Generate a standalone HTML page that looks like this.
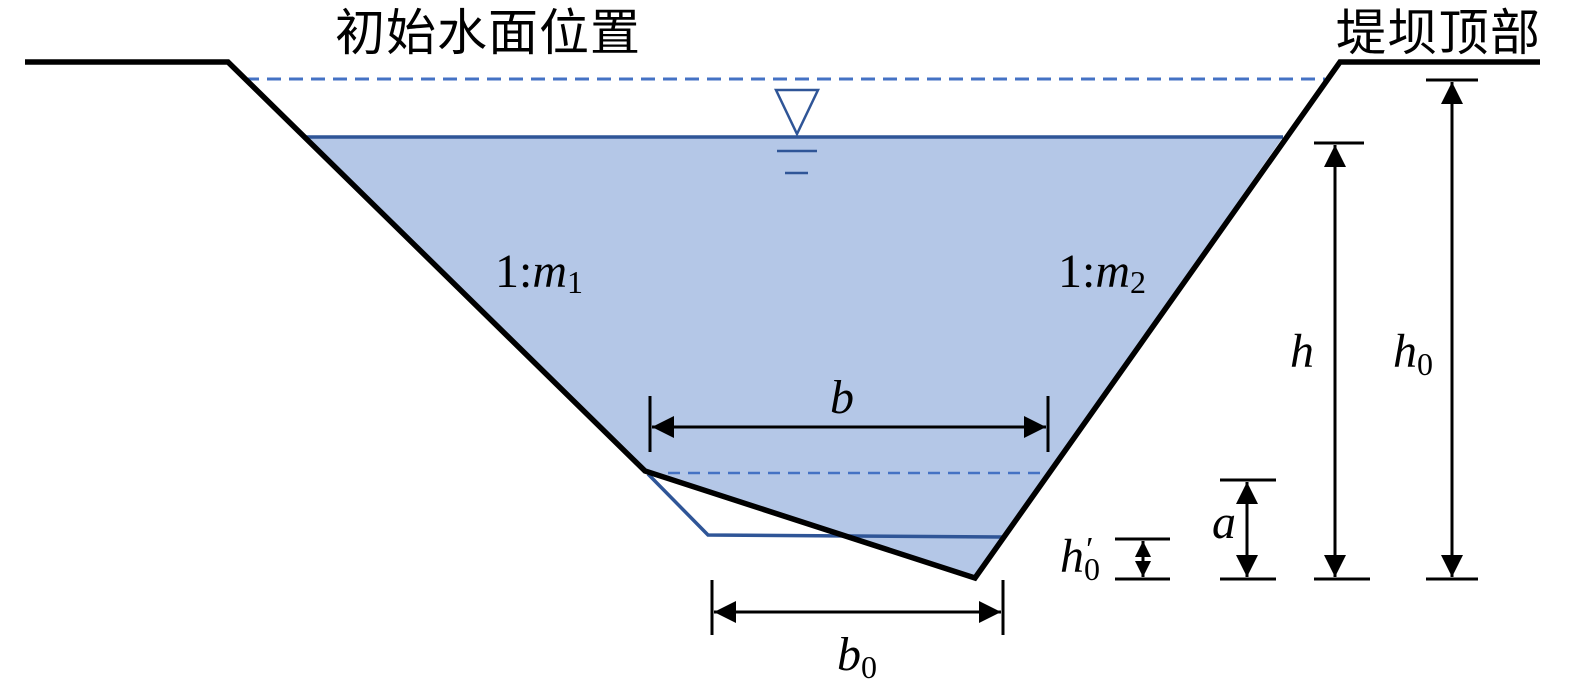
<!DOCTYPE html>
<html><head><meta charset="utf-8"><style>body{margin:0;background:#fff}svg{display:block}</style></head><body>
<svg width="1575" height="689" xmlns="http://www.w3.org/2000/svg" font-family="'Liberation Serif','Noto Serif CJK SC',serif">
<defs><marker id="ar" viewBox="0 0 10 10" refX="10" refY="5" markerWidth="22" markerHeight="22" markerUnits="userSpaceOnUse" orient="auto-start-reverse"><path d="M0,0L10,5L0,10z" fill="#000"/></marker>
<marker id="as" viewBox="0 0 10 10" refX="10" refY="5" markerWidth="16" markerHeight="18" markerUnits="userSpaceOnUse" orient="auto-start-reverse"><path d="M0,0L10,5L0,10z" fill="#000"/></marker></defs>
<polygon points="305,137 1283,137 975,578 645,471" fill="#b4c7e7"/>
<line x1="305" y1="137" x2="1283" y2="137" stroke="#2f5597" stroke-width="3.5"/>
<line x1="245" y1="79" x2="1325" y2="79" stroke="#4472c4" stroke-width="3" stroke-dasharray="14,8"/>
<line x1="668" y1="473" x2="1045" y2="473" stroke="#4472c4" stroke-width="2.5" stroke-dasharray="12,8"/>
<polyline points="648,474 708,535 1002,537" fill="none" stroke="#2f5597" stroke-width="3.5"/>
<polyline points="25,62 228,62 645,471 975,578 1340,62 1540,62" fill="none" stroke="#000" stroke-width="5.5"/>
<polygon points="776,90 818,90 797,134" fill="none" stroke="#2f5597" stroke-width="2.5"/>
<line x1="777" y1="151" x2="817" y2="151" stroke="#2f5597" stroke-width="2.5"/>
<line x1="785" y1="173" x2="808" y2="173" stroke="#2f5597" stroke-width="2.5"/>
<g stroke="#000" stroke-width="3">
<line x1="650" y1="396" x2="650" y2="452"/><line x1="1048" y1="396" x2="1048" y2="452"/>
<line x1="652" y1="427" x2="1046" y2="427" marker-start="url(#ar)" marker-end="url(#ar)"/>
<line x1="712" y1="580" x2="712" y2="635"/><line x1="1003" y1="580" x2="1003" y2="635"/>
<line x1="714" y1="612" x2="1001" y2="612" marker-start="url(#ar)" marker-end="url(#ar)"/>
<line x1="1115" y1="539" x2="1170" y2="539"/><line x1="1115" y1="579" x2="1170" y2="579"/>
<line x1="1143" y1="541" x2="1143" y2="577" marker-start="url(#as)" marker-end="url(#as)"/>
<line x1="1220" y1="480" x2="1276" y2="480"/><line x1="1220" y1="579" x2="1276" y2="579"/>
<line x1="1247" y1="482" x2="1247" y2="577" marker-start="url(#ar)" marker-end="url(#ar)"/>
<line x1="1314" y1="143" x2="1364" y2="143"/><line x1="1314" y1="579" x2="1370" y2="579"/>
<line x1="1335" y1="145" x2="1335" y2="577" marker-start="url(#ar)" marker-end="url(#ar)"/>
<line x1="1426" y1="80" x2="1478" y2="80"/><line x1="1426" y1="579" x2="1478" y2="579"/>
<line x1="1452" y1="82" x2="1452" y2="577" marker-start="url(#ar)" marker-end="url(#ar)"/>
</g>
<g font-size="48" fill="#000">
<text x="335" y="50" font-family="'Liberation Sans','Noto Sans CJK SC',sans-serif" font-size="50" textLength="305">初始水面位置</text>
<text x="1336" y="50" font-family="'Liberation Sans','Noto Sans CJK SC',sans-serif" font-size="50" textLength="204">堤坝顶部</text>
<text x="495" y="287">1:<tspan font-style="italic">m</tspan><tspan font-size="32" dy="6">1</tspan></text>
<text x="1058" y="287">1:<tspan font-style="italic">m</tspan><tspan font-size="32" dy="6">2</tspan></text>
<text x="1290" y="367" font-style="italic">h</text>
<text x="1393" y="367" font-style="italic">h<tspan font-style="normal" font-size="32" dy="8">0</tspan></text>
<text x="830" y="413" font-style="italic">b</text>
<text x="837" y="670" font-style="italic">b<tspan font-style="normal" font-size="32" dy="8">0</tspan></text>
<text x="1212" y="538" font-style="italic">a</text>
<text x="1060" y="572" font-style="italic">h<tspan font-style="normal" font-size="32" dy="8">0</tspan></text>
<text x="1084" y="560" font-size="34" font-style="italic">′</text>
</g>
</svg>
</body></html>
